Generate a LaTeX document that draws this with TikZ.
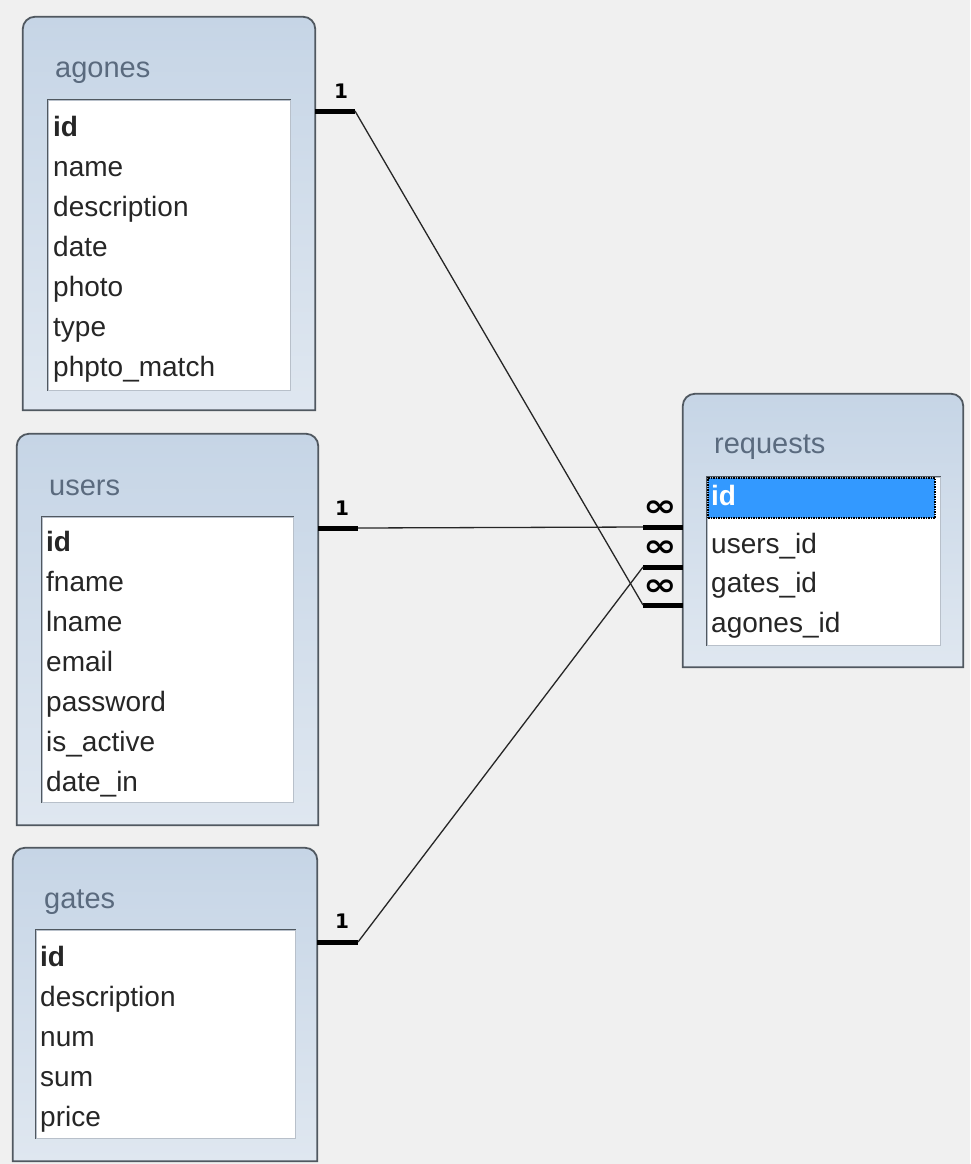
\documentclass[tikz,border=0pt]{standalone}
\usepackage{fontspec}
\setmainfont{Liberation Sans}
\newfontfamily\symfont{DejaVu Sans}
\definecolor{bg}{HTML}{F0F0F0}
\definecolor{boxtop}{HTML}{C6D5E6}
\definecolor{boxbot}{HTML}{DFE7F0}
\definecolor{boxborder}{HTML}{505860}
\definecolor{titlecol}{HTML}{5A6A7E}
\definecolor{listedge}{HTML}{B8C0CA}
\definecolor{selblue}{HTML}{3399FF}
\begin{document}
\begin{tikzpicture}[x=1pt,y=-1pt,
  frame/.style={draw=boxborder,line width=1.8pt,top color=boxtop,bottom color=boxbot},
  holder/.style={rectangle,draw=none,inner sep=0pt},
  listbox/.style={rectangle,fill=white,draw=listedge,line width=1pt,inner sep=0pt},
  listedgedark/.style={draw=boxborder,line width=1.4pt},
  title/.style={anchor=west,inner sep=0pt,text=titlecol,font=\fontsize{29}{34}\selectfont,text height=0.72em,text depth=0.21em},
  field/.style={anchor=west,inner sep=0pt,text=black!85,font=\fontsize{28}{33}\selectfont,text height=0.72em,text depth=0.21em},
  keyfield/.style={field,font=\fontsize{28}{33}\selectfont\bfseries},
  stub/.style={draw=black,line width=5pt},
  rel/.style={draw=black!85,line width=1.3pt},
  one/.style={inner sep=0pt,font=\symfont\bfseries\fontsize{20}{24}\selectfont},
  many/.style={inner sep=0pt,xscale=1.3,font=\symfont\bfseries\fontsize{31}{34}\selectfont}
]
\useasboundingbox[fill=bg] (0,0) rectangle (970,1164);

% ---------- agones ----------
\node[holder,minimum width=292pt,minimum height=393pt] (agones) at (169,213.5) {};
\draw[frame] (agones.south west) [rounded corners=12pt] -- (agones.north west) -- (agones.north east) [sharp corners] -- (agones.south east) -- cycle;
\node[title] (agones-title) at (55,75) {agones};
\node[listbox,minimum width=242pt,minimum height=290pt] (agoneslist) at (169,245) {};
\draw[listedgedark] (agoneslist.south west) -- (agoneslist.north west) -- (agoneslist.north east);
\node[keyfield] (agones-id) at (53,134) {id};
\node[field] (agones-name) at (53,174) {name};
\node[field] (agones-description) at (53,214) {description};
\node[field] (agones-date) at (53,254) {date};
\node[field] (agones-photo) at (53,294) {photo};
\node[field] (agones-type) at (53,334) {type};
\node[field] (agones-phpto) at (53,374) {phpto\_match};

% ---------- users ----------
\node[holder,minimum width=301pt,minimum height=391pt] (users) at (167.5,629.5) {};
\draw[frame] (users.south west) [rounded corners=12pt] -- (users.north west) -- (users.north east) [sharp corners] -- (users.south east) -- cycle;
\node[title] (users-title) at (49,493) {users};
\node[listbox,minimum width=251pt,minimum height=285pt] (userslist) at (167.5,659.5) {};
\draw[listedgedark] (userslist.south west) -- (userslist.north west) -- (userslist.north east);
\node[keyfield] (users-id) at (46,549) {id};
\node[field] (users-fname) at (46,589) {fname};
\node[field] (users-lname) at (46,629) {lname};
\node[field] (users-email) at (46,669) {email};
\node[field] (users-password) at (46,709) {password};
\node[field] (users-isactive) at (46,749) {is\_active};
\node[field] (users-datein) at (46,789) {date\_in};

% ---------- gates ----------
\node[holder,minimum width=304pt,minimum height=313pt] (gates) at (165,1004.5) {};
\draw[frame] (gates.south west) [rounded corners=12pt] -- (gates.north west) -- (gates.north east) [sharp corners] -- (gates.south east) -- cycle;
\node[title] (gates-title) at (44,906) {gates};
\node[listbox,minimum width=259pt,minimum height=208pt] (gateslist) at (165.5,1034) {};
\draw[listedgedark] (gateslist.south west) -- (gateslist.north west) -- (gateslist.north east);
\node[keyfield] (gates-id) at (40,964) {id};
\node[field] (gates-description) at (40,1004) {description};
\node[field] (gates-num) at (40,1044) {num};
\node[field] (gates-sum) at (40,1084) {sum};
\node[field] (gates-price) at (40,1124) {price};

% ---------- requests ----------
\node[holder,minimum width=280pt,minimum height=273pt] (requests) at (823,530.5) {};
\draw[frame] (requests.south west) [rounded corners=12pt] -- (requests.north west) -- (requests.north east) [sharp corners] -- (requests.south east) -- cycle;
\node[title] (requests-title) at (714,451) {requests};
\node[listbox,minimum width=233pt,minimum height=168pt] (requestslist) at (823.5,561) {};
\draw[listedgedark] (requestslist.south west) -- (requestslist.north west) -- (requestslist.north east);
\node[rectangle,fill=selblue,draw=black,densely dotted,line width=1.5pt,minimum width=227pt,minimum height=40pt,inner sep=0pt] (requests-sel) at (821.5,498) {};
\node[keyfield,text=white] (requests-id) at (711,503) {id};
\node[field] (requests-usersid) at (711,551) {users\_id};
\node[field] (requests-gatesid) at (711,590) {gates\_id};
\node[field] (requests-agonesid) at (711,630) {agones\_id};

% ---------- relationship end points ----------
\coordinate (ag-s) at (agones.east |- 0,111);
\coordinate (ag-e) at (355,111);
\coordinate (us-s) at (users.east |- 0,528);
\coordinate (us-e) at (358,528);
\coordinate (ga-s) at (gates.east |- 0,942);
\coordinate (ga-e) at (358,942);
\coordinate (r1-e) at (requests.west |- 0,527);
\coordinate (r1-s) at (643,527);
\coordinate (r2-e) at (requests.west |- 0,567);
\coordinate (r2-s) at (643,567);
\coordinate (r3-e) at (requests.west |- 0,605);
\coordinate (r3-s) at (643,605);

% stubs
\draw[stub] (ag-s) -- (ag-e);
\draw[stub] (us-s) -- (us-e);
\draw[stub] (ga-s) -- (ga-e);
\draw[stub] (r1-s) -- (r1-e);
\draw[stub] (r2-s) -- (r2-e);
\draw[stub] (r3-s) -- (r3-e);

% relationship lines
\draw[rel] (ag-e) -- (r3-s);
\draw[rel] (us-e) -- (r1-s);
\draw[rel] (ga-e) -- (r2-s);

% cardinality labels
\node[one] (ag-one) at (341,91) {1};
\node[one] (us-one) at (342,508) {1};
\node[one] (ga-one) at (342,921) {1};
\node[many] (r1-many) at (660,509) {∞};
\node[many] (r2-many) at (660,549) {∞};
\node[many] (r3-many) at (660,588) {∞};
\end{tikzpicture}
\end{document}
